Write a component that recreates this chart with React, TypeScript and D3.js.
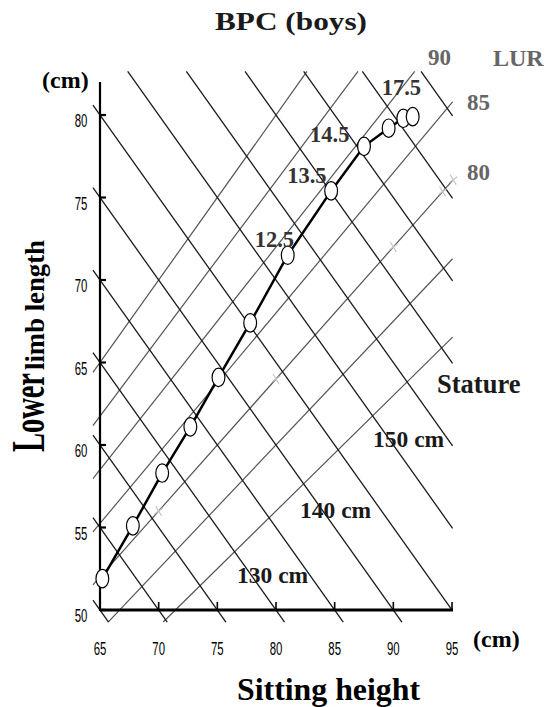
import React from "react";
import * as d3 from "d3";

// ---- data ----
const ages = [6.5, 7.5, 8.5, 9.5, 10.5, 11.5, 12.5, 13.5, 14.5, 15.5, 16.5, 17.5];
const sittingHeight = [65.2, 67.8, 70.3, 72.7, 75.1, 77.8, 81.0, 84.7, 87.5, 89.6, 90.85, 91.65];
const lowerLimb = [51.9, 55.1, 58.3, 61.1, 64.1, 67.4, 71.5, 75.4, 78.1, 79.2, 79.8, 79.9];
const statureLines = [115, 120, 125, 130, 135, 140, 145, 150, 155, 160, 165, 170, 175];
const lurLines = [70, 75, 80, 85, 90, 95, 100];
const xTicks = [65, 70, 75, 80, 85, 90, 95];
const yTicks = [50, 55, 60, 65, 70, 75, 80];
const crossMarkSH = [70, 80, 90, 94.2, 95.1];
const crossMarkLUR = 80;

const W = 549;
const H = 707;

export default function App() {
  const x = d3.scaleLinear().domain([65, 95]).range([100, 452]);
  const y = d3.scaleLinear().domain([50, 80]).range([610, 115]);
  // grid box (data units)
  const bx0 = 64.4, bx1 = 95.05, by0 = 49.27, by1 = 82.64;
  const line = d3.line<[number, number]>().x((d) => x(d[0])).y((d) => y(d[1]));

  const statureSegs = statureLines.map((s) => {
    const a = Math.max(bx0, s - by1);
    const b = Math.min(bx1, s - by0);
    return [[a, s - a], [b, s - b]] as [number, number][];
  });
  const lurSegs = lurLines.map((r) => {
    const k = r / 100;
    const a = Math.max(bx0, by0 / k);
    const b = Math.min(bx1, by1 / k);
    return [[a, a * k], [b, b * k]] as [number, number][];
  });
  const pts = sittingHeight.map((s, i) => [s, lowerLimb[i]] as [number, number]);
  const ageIdx = (a: number) => ages.indexOf(a);
  const serif = "'Liberation Serif', 'Times New Roman', serif";
  const sans = "'Liberation Sans', Arial, sans-serif";

  return (
    <svg width={W} height={H} style={{ position: "absolute", left: 0, top: 0, background: "#fff" }}>
      <rect width={W} height={H} fill="#fff" />
      {/* LUR grid lines */}
      {lurSegs.map((seg, i) => (
        <path key={"l" + i} d={line(seg) || ""} stroke="#555" strokeWidth={1.2} fill="none" />
      ))}
      {/* stature grid lines */}
      {statureSegs.map((seg, i) => (
        <path key={"s" + i} d={line(seg) || ""} stroke="#1a1a1a" strokeWidth={1.3} fill="none" />
      ))}
      {/* faint cross marks along LUR 80 */}
      {crossMarkSH.map((s, i) => {
        const cx = x(s), cy = y((s * crossMarkLUR) / 100);
        return (
          <g key={"c" + i} stroke="#c4c4c4" strokeWidth={1.2}>
            <line x1={cx - 3} y1={cy - 5} x2={cx + 3} y2={cy + 5} />
            <line x1={cx - 4} y1={cy + 3} x2={cx + 4} y2={cy - 3} />
          </g>
        );
      })}
      {/* axes */}
      <line x1={x(65)} y1={82} x2={x(65)} y2={y(50) + 1} stroke="#000" strokeWidth={2.2} />
      <line x1={x(65)} y1={y(50)} x2={x(95) + 1} y2={y(50)} stroke="#000" strokeWidth={3} />
      {yTicks.map((t) => (
        <line key={"yt" + t} x1={x(65)} y1={y(t)} x2={x(65) + 6} y2={y(t)} stroke="#000" strokeWidth={2.2} />
      ))}
      {xTicks.map((t) => (
        <line key={"xt" + t} x1={x(t)} y1={y(50)} x2={x(t)} y2={y(50) - 8} stroke="#000" strokeWidth={1.6} />
      ))}
      {yTicks.map((t) => (
        <text key={"yl" + t} transform={`translate(81,${y(t) + 12}) scale(0.6,1)`} textAnchor="middle"
          fontFamily={sans} fontSize={19} fill="#000">{t}</text>
      ))}
      {xTicks.map((t) => (
        <text key={"xl" + t} transform={`translate(${x(t)},655) scale(0.6,1)`} textAnchor="middle"
          fontFamily={sans} fontSize={19} fill="#000">{t}</text>
      ))}
      {/* growth curve */}
      <path d={line(pts) || ""} stroke="#000" strokeWidth={2.5} fill="none" />
      {pts.map((p, i) => (
        <ellipse key={"p" + i} cx={x(p[0])} cy={y(p[1])} rx={6.4} ry={9.2} fill="#fff" stroke="#000" strokeWidth={1.2} />
      ))}
      {/* age labels */}
      <g fontFamily={serif} fontWeight="bold" fontSize={22.5} fill="#333">
        <text x={x(sittingHeight[ageIdx(12.5)]) - 33} y={y(lowerLimb[ageIdx(12.5)]) - 8}>12.5</text>
        <text x={x(sittingHeight[ageIdx(13.5)]) - 44} y={y(lowerLimb[ageIdx(13.5)]) - 8}>13.5</text>
        <text x={x(sittingHeight[ageIdx(14.5)]) - 54} y={y(lowerLimb[ageIdx(14.5)]) - 4}>14.5</text>
        <text x={x(sittingHeight[ageIdx(17.5)]) - 31} y={y(lowerLimb[ageIdx(17.5)]) - 22}>17.5</text>
      </g>
      {/* LUR labels */}
      <g fontFamily={serif} fontWeight="bold" fontSize={23} fill="#666">
        <text x={428} y={65}>90</text>
        <text x={467} y={110}>85</text>
        <text x={467} y={180}>80</text>
        <text x={493} y={66} fontSize={24}>LUR</text>
      </g>
      {/* stature labels */}
      <g fontFamily={serif} fontWeight="bold" fontSize={23.5} fill="#1a1a1a">
        <text x={237} y={583}>130 cm</text>
        <text x={300} y={518}>140 cm</text>
        <text x={373} y={447}>150 cm</text>
        <text x={437} y={393} fontSize={26.5}>Stature</text>
      </g>
      {/* titles */}
      <text x={215} y={30} fontFamily={serif} fontWeight="bold" fontSize={26} fill="#1a1a1a"
        textLength={152} lengthAdjust="spacingAndGlyphs">BPC (boys)</text>
      <text x={42} y={88} fontFamily={serif} fontWeight="bold" fontSize={24} fill="#000">(cm)</text>
      <text x={473} y={647} fontFamily={serif} fontWeight="bold" fontSize={24} fill="#000">(cm)</text>
      <text x={237} y={700} fontFamily={serif} fontWeight="bold" fontSize={31.8} fill="#000"
        textLength={183} lengthAdjust="spacingAndGlyphs">Sitting height</text>
      <text transform="translate(44,452) rotate(-90) scale(1,1.6)" fontFamily={serif} fontWeight="bold"
        fontSize={28.5} fill="#000" textLength={79} lengthAdjust="spacingAndGlyphs">Lower</text>
      <text transform="translate(44,370) rotate(-90) scale(1,1.3)" fontFamily={serif} fontWeight="bold"
        fontSize={21} fill="#000" textLength={130} lengthAdjust="spacingAndGlyphs">limb length</text>
    </svg>
  );
}
